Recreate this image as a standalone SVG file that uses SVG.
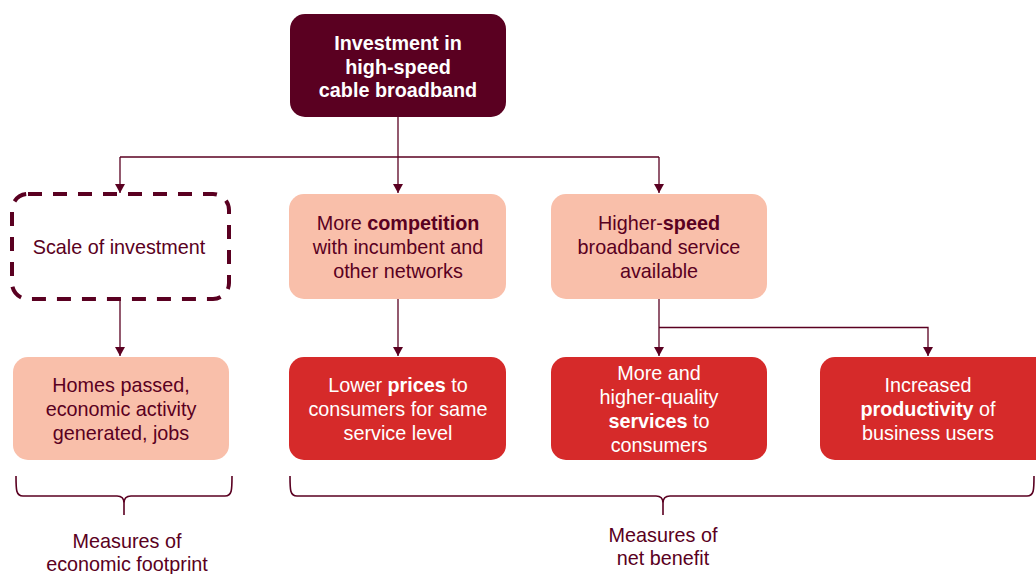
<svg xmlns="http://www.w3.org/2000/svg" width="1036" height="574" viewBox="0 0 1036 574">
<style>
  text { font-family: "Liberation Sans", Arial, sans-serif; font-size: 19.8px; text-anchor: middle; }
  .dark { fill: #5a0021; }
  .peach { fill: #f9bfaa; }
  .red { fill: #d62a2a; }
  .tw { fill: #ffffff; }
  .tm { fill: #5a0021; }
  .b { font-weight: bold; }
  .conn { fill: none; stroke: #5a0021; stroke-width: 1.3; }
  .brace { fill: none; stroke: #5a0021; stroke-width: 1.6; }
</style>
<defs>
  <marker id="arrd" markerUnits="userSpaceOnUse" markerWidth="10" markerHeight="10" viewBox="0 0 10 10" refX="5" refY="10" orient="0">
    <path d="M0,1 L10,1 L5,10 Z" fill="#5a0021"/>
  </marker>
</defs>

<g id="connectors">
  <path class="conn" d="M398,117 V193" marker-end="url(#arrd)"/>
  <path class="conn" d="M120,157 H659"/>
  <path class="conn" d="M120,157 V193" marker-end="url(#arrd)"/>
  <path class="conn" d="M659,157 V193" marker-end="url(#arrd)"/>
  <path class="conn" d="M120,299 V356" marker-end="url(#arrd)"/>
  <path class="conn" d="M398,299 V356" marker-end="url(#arrd)"/>
  <path class="conn" d="M659,299 V356" marker-end="url(#arrd)"/>
  <path class="conn" d="M659,327.5 H928 V356" marker-end="url(#arrd)"/>
</g>

<g id="n-investment">
  <rect class="dark" x="290" y="14" width="216" height="103" rx="15"/>
  <text class="tw b" x="398" y="50">Investment in</text>
  <text class="tw b" x="398" y="74">high-speed</text>
  <text class="tw b" x="398" y="97">cable broadband</text>
</g>

<g id="n-scale">
  <rect x="12" y="194" width="217" height="105" rx="16" fill="none" stroke="#5a0021" stroke-width="4" stroke-dasharray="14 11"/>
  <text class="tm" x="119" y="254">Scale of investment</text>
</g>

<g id="n-competition">
  <rect class="peach" x="289" y="194" width="217" height="105" rx="15"/>
  <text class="tm" x="398" y="230">More <tspan class="b">competition</tspan></text>
  <text class="tm" x="398" y="254">with incumbent and</text>
  <text class="tm" x="398" y="278">other networks</text>
</g>

<g id="n-speed">
  <rect class="peach" x="551" y="194" width="216" height="105" rx="15"/>
  <text class="tm" x="659" y="230">Higher-<tspan class="b">speed</tspan></text>
  <text class="tm" x="659" y="254">broadband service</text>
  <text class="tm" x="659" y="278">available</text>
</g>

<g id="n-homes">
  <rect class="peach" x="13" y="357" width="216" height="103" rx="15"/>
  <text class="tm" x="121" y="392">Homes passed,</text>
  <text class="tm" x="121" y="416">economic activity</text>
  <text class="tm" x="121" y="440">generated, jobs</text>
</g>

<g id="n-prices">
  <rect class="red" x="289" y="357" width="217" height="103" rx="15"/>
  <text class="tw" x="398" y="392">Lower <tspan class="b">prices</tspan> to</text>
  <text class="tw" x="398" y="416">consumers for same</text>
  <text class="tw" x="398" y="440">service level</text>
</g>

<g id="n-services">
  <rect class="red" x="551" y="357" width="216" height="103" rx="15"/>
  <text class="tw" x="659" y="380">More and</text>
  <text class="tw" x="659" y="404">higher-quality</text>
  <text class="tw" x="659" y="428"><tspan class="b">services</tspan> to</text>
  <text class="tw" x="659" y="452">consumers</text>
</g>

<g id="n-productivity">
  <rect class="red" x="820" y="357" width="230" height="103" rx="15"/>
  <text class="tw" x="928" y="392">Increased</text>
  <text class="tw" x="928" y="416"><tspan class="b">productivity</tspan> of</text>
  <text class="tw" x="928" y="440">business users</text>
</g>

<g id="brace-footprint">
  <path class="brace" d="M16,476 C16,490 16,496 23,496 L117,496 C122,496 124,498 124,503 C124,498 126,496 131,496 L225,496 C232,496 232,490 232,476 M124,500 V515"/>
  <text class="tm" x="127" y="548">Measures of</text>
  <text class="tm" x="127" y="571">economic footprint</text>
</g>

<g id="brace-benefit">
  <path class="brace" d="M290,476 C290,490 290,496 297,496 L656,496 C661,496 663,498 663,503 C663,498 665,496 670,496 L1027,496 C1034,496 1034,490 1034,476 M663,500 V515"/>
  <text class="tm" x="663" y="542">Measures of</text>
  <text class="tm" x="663" y="565">net benefit</text>
</g>
</svg>
